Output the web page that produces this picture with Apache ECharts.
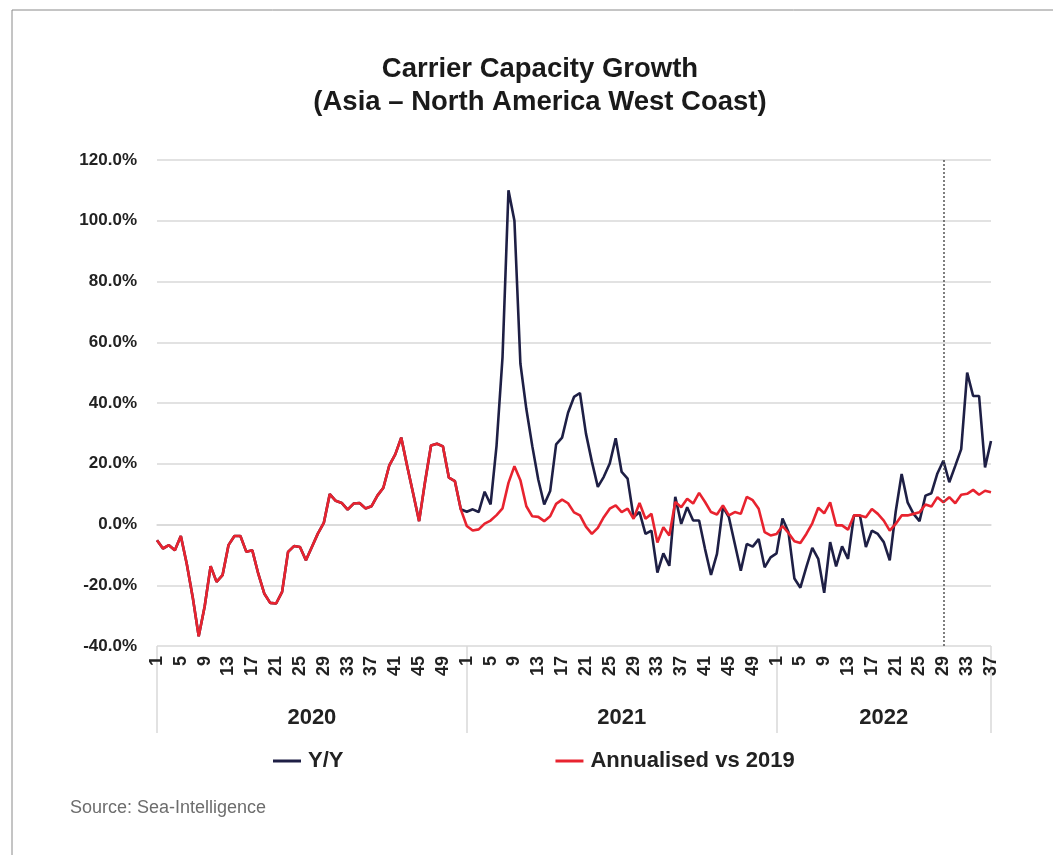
<!DOCTYPE html>
<html>
<head>
<meta charset="utf-8">
<script src="https://cdn.jsdelivr.net/npm/echarts@6/dist/echarts.min.js"></script>
<style>
html,body{margin:0;padding:0;background:#fff;}
#chart{width:1053px;height:855px;}
</style>
</head>
<body>
<div id="chart"></div>
<script>
// ---- data ----
const years = ['2020', '2021', '2022'];
const weeksPerYear = [52, 52, 37];
const yTicks = [-40, -20, 0, 20, 40, 60, 80, 100, 120];

// Y/Y growth (%), weekly
const yoy = [
  // 2020 (identical to vs-2019 in 2020)
  -5.2, -7.9, -6.8, -8.5, -3.8, -13.0, -24.0, -36.8, -27.0, -13.7,
  -18.9, -16.7, -6.8, -3.8, -3.8, -9.0, -8.5, -16.2, -22.7, -25.8,
  -26.0, -22.2, -9.0, -7.1, -7.4, -11.8, -7.4, -3.0, 0.5, 10.0,
  7.8, 7.1, 4.9, 6.9, 7.1, 5.3, 6.0, 9.5, 12.1, 19.5,
  23.1, 28.6, 19.2, 10.2, 1.1, 14.1, 26.0, 26.6, 25.7, 15.4,
  14.3, 5.0,
  // 2021
  4.2, 5.0, 4.1, 10.8, 6.6, 26.0, 55.0, 110.0, 100.0, 53.0,
  38.0, 25.8, 14.8, 6.6, 11.0, 26.4, 28.6, 36.8, 42.0, 43.3,
  30.0, 20.7, 12.4, 15.7, 20.1, 28.4, 17.3, 15.1, 2.4, 4.1,
  -3.1, -2.0, -15.8, -9.5, -13.6, 9.1, 0.2, 5.7, 1.3, 1.3,
  -8.1, -16.6, -9.7, 5.7, 2.4, -6.4, -15.2, -6.4, -7.3, -4.8,
  -14.1, -10.8,
  // 2022
  -9.5, 2.0, -2.5, -17.8, -20.8, -14.0, -7.7, -11.3, -22.5, -5.8,
  -13.8, -7.2, -11.3, 3.0, 3.0, -7.4, -2.0, -3.1, -5.8, -11.8,
  4.2, 16.6, 7.3, 3.5, 1.1, 9.5, 10.3, 16.8, 21.0, 13.9,
  19.3, 24.8, 50.0, 42.3, 42.3, 18.8, 27.5
];

// Annualised growth vs 2019 (%), weekly
const vs2019 = [
  // 2020
  -5.2, -7.9, -6.8, -8.5, -3.8, -13.0, -24.0, -36.8, -27.0, -13.7,
  -18.9, -16.7, -6.8, -3.8, -3.8, -9.0, -8.5, -16.2, -22.7, -25.8,
  -26.0, -22.2, -9.0, -7.1, -7.4, -11.8, -7.4, -3.0, 0.5, 10.0,
  7.8, 7.1, 4.9, 6.9, 7.1, 5.3, 6.0, 9.5, 12.1, 19.5,
  23.1, 28.6, 19.2, 10.2, 1.1, 14.1, 26.0, 26.6, 25.7, 15.4,
  14.3, 5.0,
  // 2021
  -0.5, -2.0, -1.6, 0.3, 1.3, 3.1, 5.3, 13.7, 19.2, 14.6,
  6.0, 2.7, 2.5, 1.1, 2.7, 6.8, 8.2, 7.0, 4.0, 3.0,
  -0.7, -3.1, -1.1, 2.4, 5.2, 6.3, 4.1, 5.2, 1.9, 7.1,
  1.9, 3.5, -5.9, -0.9, -3.6, 7.4, 5.7, 8.5, 6.9, 10.4,
  7.4, 4.1, 3.3, 6.3, 3.0, 4.1, 3.5, 9.1, 8.0, 5.2,
  -2.5, -3.6,
  // 2022
  -3.1, -0.5, -2.8, -5.5, -6.1, -3.1, 0.4, 5.5, 3.7, 7.3,
  -0.3, -0.3, -1.7, 3.0, 3.0, 2.4, 5.1, 3.5, 1.3, -2.0,
  0.2, 3.0, 3.0, 3.5, 4.0, 6.6, 5.9, 9.0, 7.3, 9.0,
  7.0, 9.8, 10.1, 11.4, 9.8, 11.1, 10.6
];

const markerYear = '2022';
const markerWeek = 29;

// ---- derived categories ----
const weekLabels = [];
const yearOfIndex = [];
const yearStart = [];
const yearMid = [];
years.forEach((y, k) => {
  yearStart.push(weekLabels.length);
  yearMid.push(weekLabels.length + Math.floor(weeksPerYear[k] / 2));
  for (let w = 1; w <= weeksPerYear[k]; w++) {
    weekLabels.push(String(w));
    yearOfIndex.push(y);
  }
});
const lastIndex = weekLabels.length - 1;
const boundaries = yearStart.slice(1).concat([0, lastIndex]);
const markerIndex = yearStart[years.indexOf(markerYear)] + markerWeek - 1;

const FONT = '"Liberation Sans", Arial, sans-serif';
const chart = echarts.init(document.getElementById('chart'), null, {renderer: 'canvas'});
chart.setOption({
  backgroundColor: '#ffffff',
  animation: false,
  title: {
    text: 'Carrier Capacity Growth\n(Asia – North America West Coast)',
    left: 535, top: 48, textAlign: 'center',
    textStyle: {fontFamily: FONT, fontSize: 27.5, fontWeight: 'bold', color: '#1a1a1a', lineHeight: 33}
  },
  legend: {
    left: 268, top: 745,
    itemGap: 212, itemWidth: 28, itemHeight: 3, icon: 'rect',
    textStyle: {fontFamily: FONT, fontSize: 22, fontWeight: 'bold', color: '#222', padding: [0, 0, 0, 2]},
    data: ['Y/Y', 'Annualised vs 2019']
  },
  grid: {left: 157, right: 62, top: 160, bottom: 209, containLabel: false},
  xAxis: [
    {
      type: 'category', data: weekLabels, boundaryGap: false,
      axisLine: {show: true, lineStyle: {color: '#d9d9d9', width: 1.5}},
      axisTick: {show: false},
      axisLabel: {
        interval: 3, rotate: 90, margin: 10,
        fontFamily: FONT, fontSize: 18, fontWeight: 'bold', color: '#222'
      },
      splitLine: {show: false}
    },
    {
      type: 'category', data: yearOfIndex, boundaryGap: false, position: 'bottom', offset: 0,
      axisLine: {show: false},
      axisTick: {
        show: true, length: 87, inside: false,
        interval: (i) => boundaries.indexOf(i) >= 0,
        lineStyle: {color: '#d9d9d9', width: 1.5}
      },
      axisLabel: {
        margin: 61,
        interval: (i) => yearMid.indexOf(i) >= 0,
        fontFamily: FONT, fontSize: 22, fontWeight: 'bold', color: '#222'
      }
    }
  ],
  yAxis: {
    type: 'value', min: yTicks[0], max: yTicks[yTicks.length - 1], interval: 20,
    axisLine: {show: false}, axisTick: {show: false},
    axisLabel: {
      margin: 20, fontFamily: FONT, fontSize: 17, fontWeight: 'bold', color: '#222',
      formatter: (v) => v.toFixed(1) + '%'
    },
    splitLine: {lineStyle: {color: '#d9d9d9', width: 1.5}}
  },
  series: [
    {
      name: 'Y/Y', type: 'line', data: yoy, symbol: 'none',
      lineStyle: {color: '#1e1f45', width: 2.6}, itemStyle: {color: '#1e1f45'},
      markLine: {
        symbol: 'none', silent: true, label: {show: false},
        lineStyle: {color: '#555', type: [2, 2], width: 1.5},
        data: [{xAxis: markerIndex}]
      },
      z: 2
    },
    {
      name: 'Annualised vs 2019', type: 'line', data: vs2019, symbol: 'none',
      lineStyle: {color: '#e8232f', width: 2.6}, itemStyle: {color: '#e8232f'},
      z: 3
    }
  ],
  graphic: [
    {type: 'rect', shape: {x: 12, y: 10, width: 1100, height: 900}, style: {fill: 'none', stroke: '#8a8a8a', lineWidth: 1}, silent: true},
    {type: 'text', left: 70, top: 799, style: {text: 'Source: Sea-Intelligence', fontFamily: FONT, fontSize: 18, fill: '#6d6d6d'}}
  ]
});
</script>
</body>
</html>
